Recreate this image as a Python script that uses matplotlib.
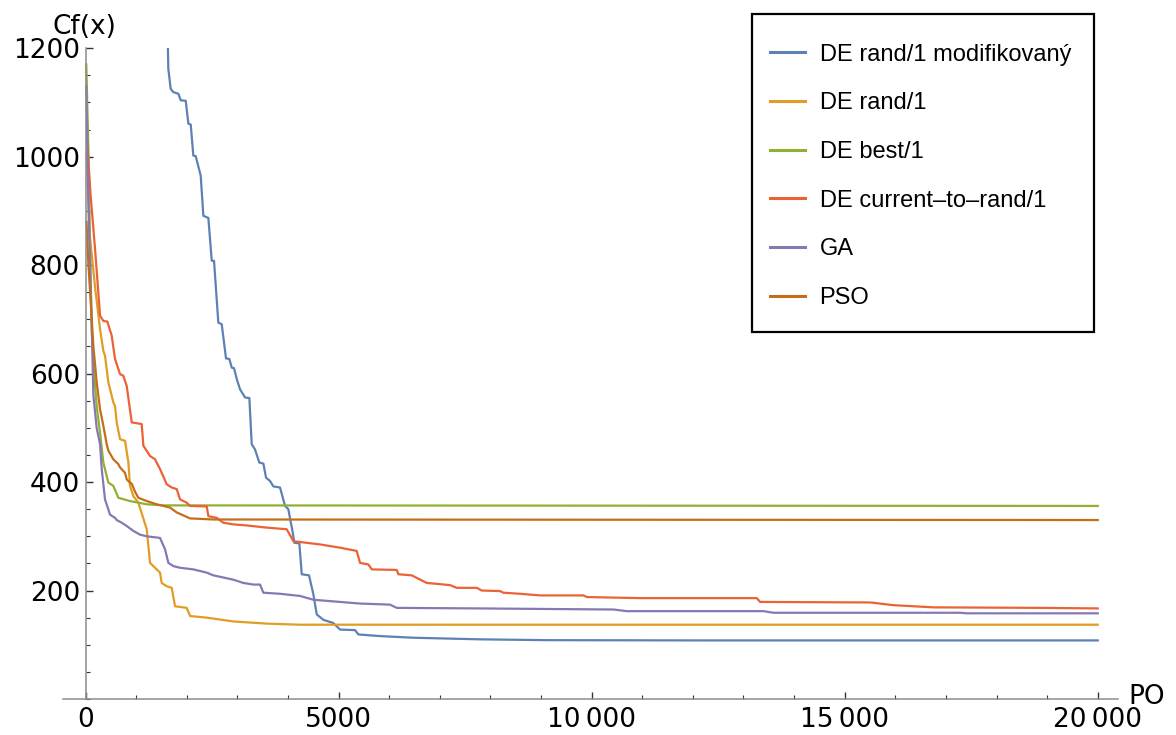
import numpy as np
import matplotlib.pyplot as plt
from matplotlib.ticker import MultipleLocator, FixedLocator
from matplotlib.patches import Rectangle

# fitness over evaluations
de_mod_x = [1615, 1636, 1683, 1735, 1834, 1881, 1980, 2032, 2079, 2130, 2177, 2276, 2328,
            2427, 2494, 2539, 2624, 2691, 2776, 2842, 2889, 2934, 2988, 3053, 3152, 3237,
            3284, 3349, 3434, 3514, 3567, 3646, 3711, 3843, 3942, 4007, 4094, 4126, 4225,
            4272, 4416, 4502, 4568, 4699, 4897, 5029, 5325, 5391, 5819, 6471, 7795, 9113,
            12148, 20000]
de_mod_y = [1260, 1162, 1125, 1119, 1116, 1104, 1103, 1061, 1059, 1002, 1001, 965, 891,
            887, 808, 808, 694, 691, 628, 627, 611, 610, 590, 571, 556, 555,
            470, 460, 436, 434, 408, 402, 392, 390, 356, 350, 307, 288, 287,
            230, 228, 193, 156, 146, 140, 128, 127, 119, 116, 113, 110, 108.5,
            108, 108]

de_rand_x = [20, 90, 188, 287, 352, 385, 451, 549, 583, 616, 682, 781, 847, 879, 945,
             1044, 1209, 1275, 1340, 1472, 1505, 1604, 1703, 1769, 2000, 2065, 2395,
             2921, 3580, 4239, 6000, 20000]
de_rand_y = [1010, 850, 760, 682, 642, 633, 584, 547, 540, 510, 479, 476, 436, 393, 374,
             362, 313, 251, 245, 233, 214, 208, 205, 171, 168, 153, 150,
             143, 139, 137, 137, 137]

de_best_x = [15, 60, 89, 122, 155, 220, 287, 352, 451, 549, 649, 879, 1209, 1538, 20000]
de_best_y = [1170, 1000, 830, 682, 620, 540, 491, 436, 399, 393, 371, 365, 359, 357, 356]

de_ctr_x = [25, 100, 188, 287, 352, 431, 517, 583, 682, 747, 814, 913, 1110, 1143, 1275,
            1373, 1472, 1604, 1703, 1802, 1867, 2000, 2065, 2395, 2428, 2592, 2724, 2921,
            3185, 3580, 3975, 4107, 4634, 5029, 5358, 5424, 5589, 5655, 6149, 6182, 6445,
            6742, 7202, 7334, 7730, 7829, 8191, 8256, 8586, 8981, 9837, 9904, 10957, 13263,
            13328, 15502, 15601, 15963, 16358, 16753, 18927, 20000]
de_ctr_y = [1040, 930, 830, 707, 697, 696, 670, 627, 599, 596, 577, 510, 507, 467, 448,
            442, 424, 396, 390, 387, 368, 362, 356, 355, 337, 334, 325, 322,
            320, 316, 313, 291, 285, 279, 273, 251, 248, 239, 238, 230, 228,
            214, 210, 205, 205, 200, 199, 196, 194, 191, 191, 188, 186, 186,
            179, 178, 177, 173, 171, 169, 168, 167]

ga_x = [15, 60, 120, 155, 220, 287, 320, 385, 484, 583, 616, 715, 814, 945, 1077, 1209, 1472,
        1571, 1637, 1736, 1867, 2130, 2395, 2526, 2921, 3118, 3316, 3448, 3514,
        3843, 4239, 4502, 4897, 5424, 6017, 6149, 7795, 10431, 10693, 13394, 13592,
        17281, 17413, 20000]
ga_y = [1130, 900, 700, 560, 500, 470, 424, 368, 340, 334, 330, 325, 319, 310, 303, 300, 297,
        276, 251, 245, 242, 239, 233, 228, 220, 214, 211, 211, 196,
        194, 190, 183, 180, 176, 174, 168, 167, 165, 162, 162, 159,
        159, 158, 158]

pso_x = [20, 55, 155, 221, 287, 352, 418, 451, 549, 649, 682, 781, 814, 879, 913, 979,
         1044, 1209, 1407, 1670, 1802, 2065, 2526, 20000]
pso_y = [880, 805, 651, 584, 534, 504, 470, 458, 442, 433, 427, 417, 405, 399, 397, 382,
         371, 365, 359, 353, 344, 333, 331, 330]

series = [
    ("DE rand/1 modifikovaný", de_mod_x, de_mod_y, "#5E81B5"),
    ("DE rand/1", de_rand_x, de_rand_y, "#E19C24"),
    ("DE best/1", de_best_x, de_best_y, "#8FB032"),
    ("DE current\u2013to\u2013rand/1", de_ctr_x, de_ctr_y, "#EB6235"),
    ("GA", ga_x, ga_y, "#8778B3"),
    ("PSO", pso_x, pso_y, "#C56E1A"),
]

W, H = 1176, 735
fig = plt.figure(figsize=(W / 100, H / 100), dpi=100)
ax = fig.add_axes([63 / W, 36 / H, (1118 - 63) / W, (699.3 - 48.5) / H])

for name, xs, ys, col in series:
    ax.plot(xs, ys, color=col, lw=1.6, label=name, solid_joinstyle="round")

ax.set_xlim(-445, 20400)
ax.set_ylim(0, 1200)

for s in ["top", "right"]:
    ax.spines[s].set_visible(False)
ax.spines["left"].set_position(("data", 0))
for s in ["left", "bottom"]:
    ax.spines[s].set_color("#8c8c8c")
    ax.spines[s].set_linewidth(1.1)

ax.xaxis.set_major_locator(FixedLocator([0, 5000, 10000, 15000, 20000]))
ax.xaxis.set_minor_locator(MultipleLocator(1000))
ax.set_xticklabels(["0", "5000", "10\u2009000", "15\u2009000", "20\u2009000"])
ax.yaxis.set_major_locator(FixedLocator([200, 400, 600, 800, 1000, 1200]))
ax.yaxis.set_minor_locator(MultipleLocator(50))

ax.tick_params(which="both", direction="in", color="#333333", labelsize=19,
               labelcolor="black")
ax.tick_params(which="major", length=5, width=1)
ax.tick_params(which="minor", length=3, width=0.8)
ax.tick_params(axis="x", pad=6)
ax.tick_params(axis="y", pad=4)

fig.text(84 / W, 1 - 27 / H, "Cf(x)", fontsize=19, ha="center", va="center")
fig.text(1147 / W, 1 - 697 / H, "PO", fontsize=19, ha="center", va="center")

# legend box drawn separately so it matches the reference frame
fig.patches.append(Rectangle((752 / W, 1 - 332 / H), (1094 - 752) / W, (332 - 14) / H,
                             transform=fig.transFigure, fill=False,
                             edgecolor="black", lw=1.6, zorder=5))
leg = ax.legend(loc="upper left", bbox_to_anchor=(740.5 / W, 1 - 14 / H),
                bbox_transform=fig.transFigure, frameon=False,
                prop={"family": "Liberation Sans", "size": 17},
                handlelength=1.5, handletextpad=0.6, labelspacing=1.13,
                borderpad=1.25, borderaxespad=0)
for line in leg.get_lines():
    line.set_linewidth(2.2)

fig.savefig("out.png", dpi=100)
